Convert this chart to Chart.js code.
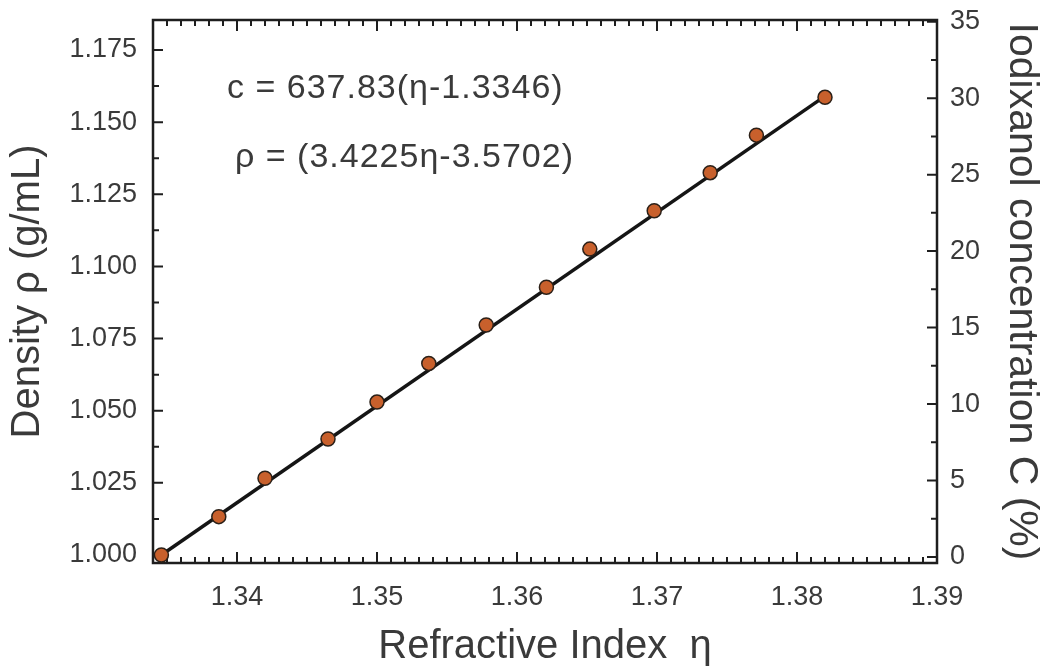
<!DOCTYPE html>
<html>
<head>
<meta charset="utf-8">
<script src="https://cdn.jsdelivr.net/npm/chart.js@4.4.0/dist/chart.umd.min.js"></script>
<style>
  html, body { margin: 0; padding: 0; background: #fff; }
  #wrap { width: 1042px; height: 669px; }
</style>
</head>
<body>
<div id="wrap"><canvas id="densityChart"></canvas></div>
<script>
// values
const refractiveIndex = [1.3346, 1.3387, 1.3420, 1.3465, 1.3500, 1.3537, 1.3578, 1.3621, 1.3652, 1.3698, 1.3738, 1.3771, 1.3820];
const density = [1.0000, 1.0133, 1.0266, 1.0402, 1.0530, 1.0664, 1.0797, 1.0928, 1.1060, 1.1193, 1.1325, 1.1455, 1.1586];

// end points of the drawn fit line
const fitIndex = [1.3346, 1.3820];
const fitDensity = [1.0000, 1.1590];

const xTickValues = [1.34, 1.35, 1.36, 1.37, 1.38, 1.39];
const densityTickValues = [1.000, 1.025, 1.050, 1.075, 1.100, 1.125, 1.150, 1.175];
const concTickValues = [0, 5, 10, 15, 20, 25, 30, 35];
const equations = ['c = 637.83(\u03b7-1.3346)', '\u03c1 = (3.4225\u03b7-3.5702)'];

const FONT = '"Liberation Sans", Arial, Helvetica, sans-serif';
const TXT = '#3a3a3a';
const AX = '#1e1e1e';

// frame + inward tick marks, drawn through the scales
const frameTicks = {
    id: 'frameTicks',
    beforeDatasetsDraw(chart) {
        const { ctx, chartArea: a, scales } = chart;
        ctx.save();
        ctx.strokeStyle = AX;
        ctx.lineWidth = 2;
        ctx.beginPath();
        // x: every 0.001, major every 0.01 (top and bottom)
        for (let k = 1334; k <= 1390; k++) {
            const px = scales.x.getPixelForValue(k / 1000);
            const len = k % 10 === 0 ? 11 : 6;
            ctx.moveTo(px, a.bottom); ctx.lineTo(px, a.bottom - len);
            ctx.moveTo(px, a.top); ctx.lineTo(px, a.top + len);
        }
        // left: every 0.0125
        for (let k = 0; k <= 14; k++) {
            const py = scales.y.getPixelForValue(1 + k * 0.0125);
            const len = k % 2 === 0 ? 10 : 6;
            ctx.moveTo(a.left, py); ctx.lineTo(a.left + len, py);
        }
        // right: every 2.5
        for (let k = 0; k <= 14; k++) {
            const py = scales.y2.getPixelForValue(k * 2.5);
            const len = k % 2 === 0 ? 10 : 6;
            ctx.moveTo(a.right, py); ctx.lineTo(a.right - len, py);
        }
        ctx.stroke();
        ctx.lineWidth = 2.5;
        ctx.strokeRect(a.left, a.top, a.right - a.left, a.bottom - a.top);
        ctx.restore();
    },
    afterDatasetsDraw(chart) {
        const { ctx, chartArea: a } = chart;
        ctx.save();
        ctx.fillStyle = TXT;
        ctx.font = '34px ' + FONT;
        ctx.letterSpacing = '1px';
        ctx.textBaseline = 'alphabetic';
        ctx.fillText(equations[0], a.left + 74, a.top + 78);
        ctx.fillText(equations[1], a.left + 82, a.top + 147);
        ctx.restore();
    }
};

const tickFont = { family: FONT, size: 27 };
const noPad = s => { s.paddingTop = 0; s.paddingBottom = 0; };

new Chart(document.getElementById('densityChart'), {
    type: 'scatter',
    data: {
        datasets: [{
            // fit line
            data: fitIndex.map((x, i) => ({ x: x, y: fitDensity[i] })),
            showLine: true,
            borderColor: '#151515',
            borderWidth: 3.5,
            pointRadius: 0,
            yAxisID: 'y',
            order: 2
        }, {
            // measured points
            data: refractiveIndex.map((x, i) => ({ x: x, y: density[i] })),
            showLine: false,
            backgroundColor: '#c8602c',
            borderColor: '#2b2018',
            borderWidth: 1.5,
            pointRadius: 7,
            yAxisID: 'y',
            order: 1
        }]
    },
    options: {
        responsive: true,
        maintainAspectRatio: false,
        animation: false,
        layout: { padding: { top: 20, left: 0, right: 0, bottom: 0 } },
        plugins: { legend: { display: false }, tooltip: { enabled: false } },
        scales: {
            x: {
                type: 'linear',
                position: 'bottom',
                min: 1.334,
                max: 1.390,
                afterBuildTicks: s => { s.ticks = xTickValues.map(v => ({ value: v })); },
                afterFit: s => { s.height = 106; s.paddingLeft = 0; s.paddingRight = 0; },
                ticks: {
                    callback: v => v.toFixed(2),
                    font: tickFont, color: TXT, padding: 18,
                    maxRotation: 0, autoSkip: false
                },
                grid: { display: false, drawTicks: false },
                border: { display: false },
                title: {
                    display: true, text: 'Refractive Index  \u03b7',
                    font: { family: FONT, size: 40, lineHeight: 1 },
                    color: TXT, padding: { top: 2, bottom: 2 }
                }
            },
            y: {
                type: 'linear',
                position: 'left',
                min: 0.99723,
                max: 1.1854,
                afterBuildTicks: s => { s.ticks = densityTickValues.map(v => ({ value: v })); },
                afterFit: s => { s.width = 153; noPad(s); },
                ticks: { callback: v => v.toFixed(3), font: tickFont, color: TXT, padding: 16 },
                grid: { display: false, drawTicks: false },
                border: { display: false },
                title: {
                    display: true, text: 'Density \u03c1 (g/mL)',
                    font: { family: FONT, size: 40, lineHeight: 1 },
                    color: TXT, padding: { top: 8, bottom: 0 }
                }
            },
            y2: {
                type: 'linear',
                position: 'right',
                min: -0.392,
                max: 35.11,
                afterBuildTicks: s => { s.ticks = concTickValues.map(v => ({ value: v })); },
                afterFit: s => { s.width = 105; noPad(s); },
                ticks: { font: tickFont, color: TXT, padding: 13 },
                grid: { display: false, drawTicks: false },
                border: { display: false },
                title: {
                    display: true, text: 'Iodixanol concentration C (%)',
                    font: { family: FONT, size: 41, lineHeight: 1 },
                    color: TXT, padding: { top: 0, bottom: 0 }
                }
            }
        }
    },
    plugins: [frameTicks]
});
</script>
</body>
</html>
